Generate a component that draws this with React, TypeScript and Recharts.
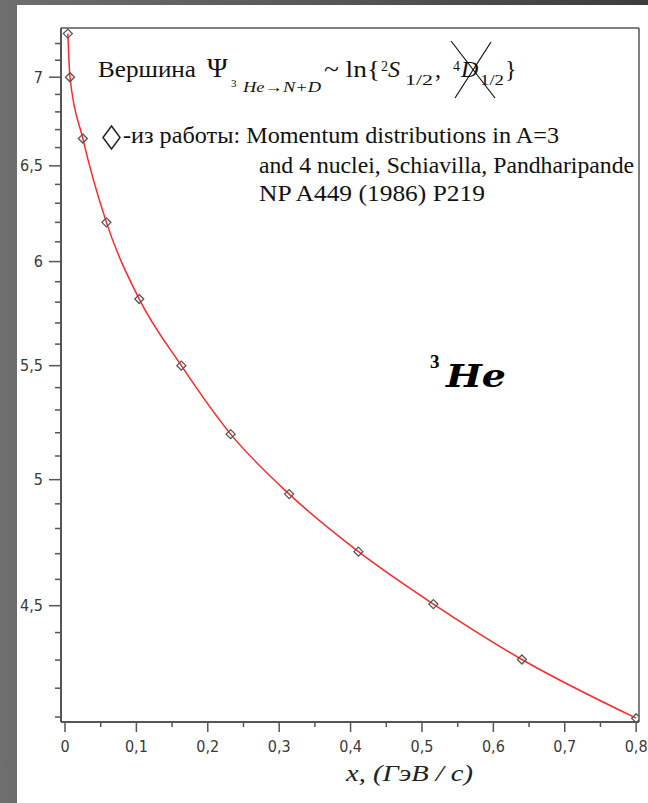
import React from "react";
import { LineChart, Line, XAxis, YAxis, ReferenceLine } from "recharts";

// momentum x (GeV/c) and vertex value
const xValues = [0.004, 0.007, 0.025, 0.058, 0.104, 0.163, 0.232, 0.314, 0.411, 0.516, 0.64, 0.8];
const psiValues = [7.26, 7.0, 6.65, 6.2, 5.815, 5.5, 5.194, 4.94, 4.708, 4.506, 4.302, 4.096];

const xTicks = [0, 0.05, 0.1, 0.15, 0.2, 0.25, 0.3, 0.35, 0.4, 0.45, 0.5, 0.55, 0.6, 0.65, 0.7, 0.75, 0.8];
const yTicks = [
  4.1, 4.2, 4.3, 4.4, 4.5, 4.6, 4.7, 4.8, 4.9, 5.0, 5.1, 5.2, 5.3, 5.4, 5.5, 5.6,
  5.7, 5.8, 5.9, 6.0, 6.1, 6.2, 6.3, 6.4, 6.5, 6.6, 6.7, 6.8, 6.9, 7.0, 7.1, 7.2,
];

const X_DOMAIN: [number, number] = [-0.0056, 0.804];
const Y_DOMAIN: [number, number] = [4.083, 7.294];

const data = xValues.map((x, i) => ({ x, psi: psiValues[i] }));

const AXIS = "#555";
const TICK_FONT = "'DejaVu Sans Condensed', 'Liberation Sans Narrow', 'DejaVu Sans', sans-serif";
const SERIF = "'Liberation Serif', 'DejaVu Serif', serif";

const fmt = (v: number) => String(+v.toFixed(2)).replace(".", ",");
const isMult = (v: number, step: number) => Math.abs(v / step - Math.round(v / step)) < 1e-6;

function XTick({ x, y, payload }: any) {
  const major = isMult(payload.value, 0.1);
  return (
    <g>
      <line x1={x} x2={x} y1={y} y2={y + (major ? 10 : 5)} stroke={AXIS} strokeWidth={1.5} />
      {major && (
        <text x={x} y={y + 30} textAnchor="middle" fontSize={16} fill="#3a3a3a" fontFamily={TICK_FONT}>
          {fmt(payload.value)}
        </text>
      )}
    </g>
  );
}

function YTick({ x, y, payload }: any) {
  const major = isMult(payload.value, 0.5);
  return (
    <g>
      <line x1={x} x2={x - (major ? 12 : 6)} y1={y} y2={y} stroke={AXIS} strokeWidth={1.5} />
      {major && (
        <text x={x - 18} y={y} dy="0.35em" textAnchor="end" fontSize={16} fill="#3a3a3a" fontFamily={TICK_FONT}>
          {fmt(payload.value)}
        </text>
      )}
    </g>
  );
}

function Diamond({ cx, cy }: any) {
  if (cx == null || cy == null) return null;
  const r = 4.5;
  return (
    <polygon
      points={`${cx},${cy - r} ${cx + r},${cy} ${cx},${cy + r} ${cx - r},${cy}`}
      fill="none"
      stroke="#555"
      strokeWidth={1.3}
    />
  );
}

export default function App() {
  return (
    <div
      style={{
        position: "absolute", left: 0, top: 0, width: 648, height: 803, overflow: "hidden",
        background: "linear-gradient(90deg, #6e6e6e 0%, #5c5c5c 40%, #3c3c3c 100%)",
      }}
    >
      <div style={{ position: "absolute", left: 17, top: 5, right: 0, bottom: 0, background: "#fff" }} />
      <div style={{ position: "absolute", left: 0, top: 0 }}>
        <LineChart width={648} height={803} data={data} margin={{ top: 28, right: 9, bottom: 0, left: 0 }}>
          <XAxis
            dataKey="x" type="number" domain={X_DOMAIN} allowDataOverflow ticks={xTicks} interval={0}
            height={81} tickSize={0} tickMargin={0} tickLine={false} tick={<XTick />}
            axisLine={{ stroke: AXIS, strokeWidth: 2 }}
          />
          <YAxis
            type="number" scale="log" domain={Y_DOMAIN} allowDataOverflow ticks={yTicks} interval={0}
            width={61} tickSize={0} tickMargin={0} tickLine={false} tick={<YTick />}
            axisLine={{ stroke: AXIS, strokeWidth: 2 }}
          />
          {/* box frame, top and right */}
          <ReferenceLine y={Y_DOMAIN[1]} stroke={AXIS} strokeWidth={1.5} ifOverflow="visible" />
          <ReferenceLine x={X_DOMAIN[1]} stroke={AXIS} strokeWidth={1.5} ifOverflow="visible" />
          <Line
            type="monotone" dataKey="psi" stroke="#ff2a2a" strokeWidth={1.5}
            dot={<Diamond />} activeDot={false} isAnimationActive={false}
          />
        </LineChart>
      </div>
      <svg width={648} height={803} style={{ position: "absolute", left: 0, top: 0, pointerEvents: "none" }}>
        {/* title */}
        <text x={98} y={77} fontSize={23} fontFamily={SERIF} fill="#111" textLength={98} lengthAdjust="spacingAndGlyphs">Вершина</text>
        <text x={207} y={77} fontSize={28} fontFamily={SERIF} fill="#111">Ψ</text>
        <text x={231} y={87} fontSize={11} fontFamily={SERIF} fill="#111">3</text>
        <text x={243} y={92} fontSize={15} fontFamily={SERIF} fontStyle="italic" fill="#111" textLength={78} lengthAdjust="spacingAndGlyphs">He→N+D</text>
        <text x={324} y={77} fontSize={24} fontFamily={SERIF} fill="#111" textLength={56} lengthAdjust="spacingAndGlyphs">{"~ ln{"}</text>
        <text x={381} y={71} fontSize={14} fontFamily={SERIF} fill="#111">2</text>
        <text x={388} y={77} fontSize={24} fontFamily={SERIF} fontStyle="italic" fill="#111">S</text>
        <text x={405} y={85} fontSize={15} fontFamily={SERIF} fill="#111" textLength={28} lengthAdjust="spacingAndGlyphs">1/2</text>
        <text x={435} y={77} fontSize={24} fontFamily={SERIF} fill="#111">,</text>
        <text x={453} y={71} fontSize={14} fontFamily={SERIF} fill="#111">4</text>
        <text x={461} y={77} fontSize={24} fontFamily={SERIF} fontStyle="italic" fill="#111">D</text>
        <text x={480} y={85} fontSize={15} fontFamily={SERIF} fill="#111" textLength={24} lengthAdjust="spacingAndGlyphs">1/2</text>
        <text x={505} y={77} fontSize={24} fontFamily={SERIF} fill="#111">{"}"}</text>
        <line x1={451} y1={41} x2={495} y2={98} stroke="#111" strokeWidth={1.2} />
        <line x1={491} y1={42} x2={455} y2={98} stroke="#111" strokeWidth={1.2} />
        {/* source note */}
        <polygon points="111.5,126 120,137.5 111.5,149 103,137.5" fill="none" stroke="#222" strokeWidth={1.5} />
        <text x={123} y={143} fontSize={23} fontFamily={SERIF} fill="#111" textLength={436} lengthAdjust="spacingAndGlyphs">-из работы: Momentum distributions in A=3</text>
        <text x={259} y={173} fontSize={23} fontFamily={SERIF} fill="#111" textLength={375} lengthAdjust="spacingAndGlyphs">and 4 nuclei, Schiavilla, Pandharipande</text>
        <text x={259} y={201} fontSize={23} fontFamily={SERIF} fill="#111" textLength={226} lengthAdjust="spacingAndGlyphs">NP A449 (1986) P219</text>
        {/* nucleus label */}
        <text x={430} y={368} fontSize={19} fontWeight="bold" fontFamily={SERIF} fill="#000">3</text>
        <text x={446} y={387} fontSize={31} fontWeight="bold" fontStyle="italic" fontFamily="'DejaVu Serif', serif" fill="#000" textLength={60} lengthAdjust="spacingAndGlyphs">He</text>
        {/* x axis title */}
        <text x={346} y={781} fontSize={24} fontStyle="italic" fontFamily={SERIF} fill="#222" textLength={127} lengthAdjust="spacingAndGlyphs">x, (ГэВ / c)</text>
      </svg>
    </div>
  );
}
